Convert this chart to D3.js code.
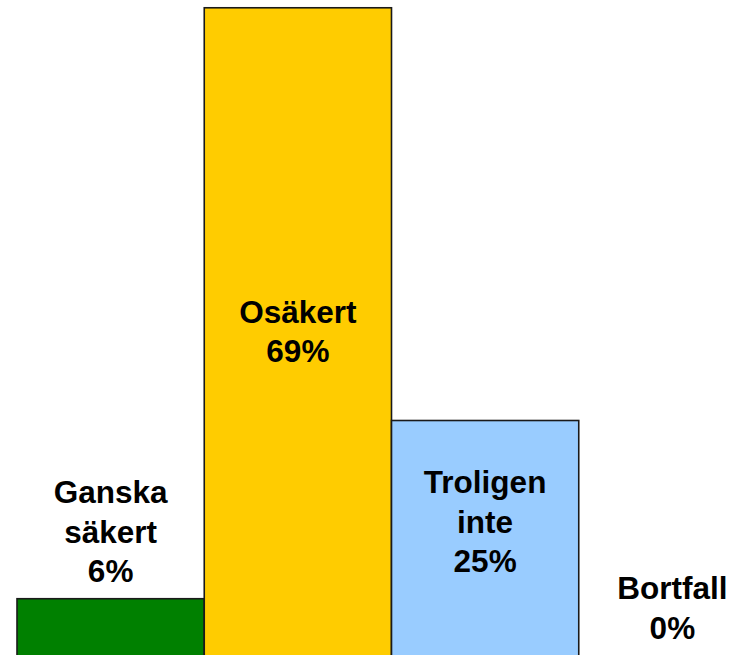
<!DOCTYPE html>
<html>
<head>
<meta charset="utf-8">
<script src="https://cdn.jsdelivr.net/npm/d3@7"></script>
<style>
  html, body { margin: 0; padding: 0; background: #fff; overflow: hidden; }
  svg { display: block; }
</style>
</head>
<body>
<script>
const categories = ["Ganska säkert", "Osäkert", "Troligen inte", "Bortfall"];
const values = [6, 69, 25, 0];
const labelLines = [["Ganska", "säkert"], ["Osäkert"], ["Troligen", "inte"], ["Bortfall"]];
const colors = ["#008000", "#FFCC00", "#99CCFF", "#C0C0C0"];

const W = 737, H = 655;
const svg = d3.select("body").append("svg").attr("width", W).attr("height", H);

const x = d3.scaleBand().domain(categories).range([17, 766]).padding(0);
const y = d3.scaleLinear().domain([0, 70]).range([655, -1.6]);

svg.selectAll("rect.bar")
  .data(categories.filter((d, i) => values[i] > 0))
  .join("rect")
  .attr("class", "bar")
  .attr("x", d => x(d))
  .attr("y", d => y(values[categories.indexOf(d)]))
  .attr("width", x.bandwidth())
  .attr("height", d => Math.max(0, y(0) - y(values[categories.indexOf(d)])) + 4)
  .attr("fill", d => colors[categories.indexOf(d)])
  .attr("stroke", "#1a1a1a")
  .attr("stroke-width", 1.6);

const fs = 31.5, lh = 39.5;
categories.forEach((c, i) => {
  const lines = labelLines[i].concat([values[i] + "%"]);
  const n = lines.length;
  const barH = y(0) - y(values[i]);
  let firstBaseline;
  if (barH > n * lh + 40) {
    // inside the bar, centred
    const mid = i === 1 ? y(values[i] / 2) : y(values[i] * 0.57);
    const blockH = (n - 1) * lh + fs * 0.72;
    firstBaseline = mid - blockH / 2 + fs * 0.72;
  } else {
    // above the bar
    const lastBaseline = Math.min(y(values[i]) - 16.5, 645.5);
    firstBaseline = lastBaseline - (n - 1) * lh;
  }
  const t = svg.append("text")
    .attr("x", x(c) + x.bandwidth() / 2)
    .attr("text-anchor", "middle")
    .attr("font-family", "'Liberation Sans', Arial, sans-serif")
    .attr("font-weight", "bold")
    .attr("font-size", fs)
    .attr("fill", "#000");
  lines.forEach((l, k) => {
    t.append("tspan")
      .attr("x", x(c) + x.bandwidth() / 2)
      .attr("y", firstBaseline + k * lh)
      .text(l);
  });
});
</script>
</body>
</html>
